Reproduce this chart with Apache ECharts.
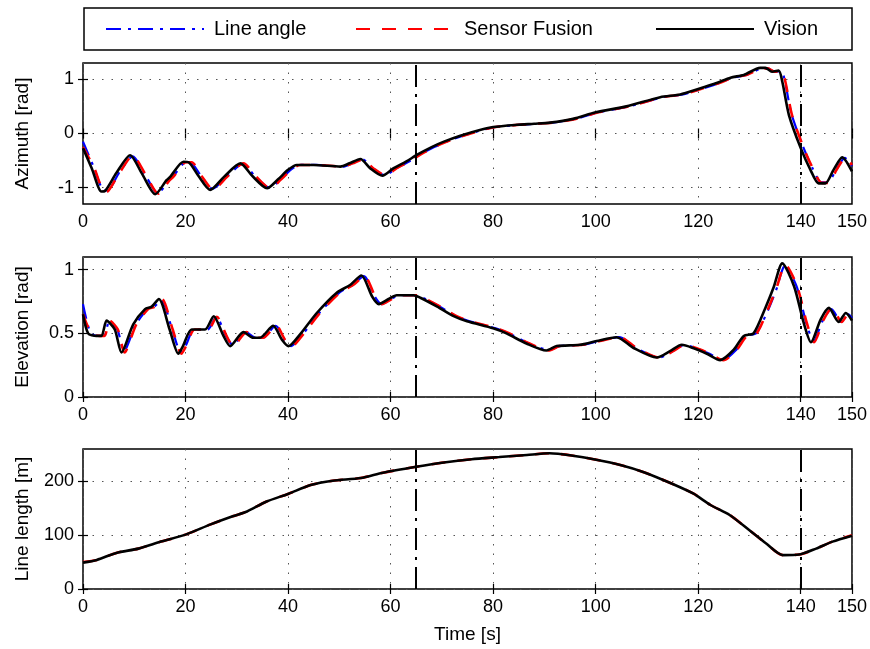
<!DOCTYPE html>
<html>
<head>
<meta charset="utf-8">
<script src="https://cdn.jsdelivr.net/npm/echarts@6/dist/echarts.min.js"></script>
<style>
html,body{margin:0;padding:0;background:#fff;}
#c{width:870px;height:649px;}
</style>
</head>
<body>
<div id="c"></div>
<script>
// ---------- data ----------
const seriesNames = ['Line angle', 'Sensor Fusion', 'Vision'];
const xTicks = [0, 20, 40, 60, 80, 100, 120, 140, 150];
const azTicks = [-1, 0, 1];
const elTicks = [0, 0.5, 1];
const lenTicks = [0, 100, 200];
const eventTimes = [65, 140];

// Azimuth [rad]
const azVisionT = [0,1.7,3.6,4.3,6.5,9.2,11.5,14.1,16.3,17,19.6,20.6,22.5,24.8,27.5,30.7,33,35.9,38,40,41.7,45,50.2,52,54.1,56,58.4,60.6,63,65.2,68,70.4,73.6,77.6,80,84.6,88,91.1,95.6,100,106,112.6,116.5,120,123.6,126.3,128.9,132.1,133.1,134.4,135.7,136.4,137.7,140,141.9,143.5,144.8,146.4,148.1,150];
const azVision = [-0.27,-0.64,-1.07,-1.06,-0.73,-0.40,-0.74,-1.12,-0.86,-0.80,-0.52,-0.53,-0.78,-1.04,-0.80,-0.55,-0.78,-1.01,-0.85,-0.67,-0.58,-0.58,-0.61,-0.55,-0.47,-0.64,-0.78,-0.64,-0.52,-0.39,-0.25,-0.15,-0.04,0.07,0.12,0.16,0.18,0.20,0.27,0.39,0.50,0.67,0.72,0.82,0.93,1.03,1.08,1.21,1.21,1.14,1.16,0.96,0.34,-0.27,-0.67,-0.92,-0.92,-0.67,-0.44,-0.70];
const azFusionT = [0,2.2,4.2,4.9,7.1,9.7,12.1,14.7,16.9,17.6,20.1,21.2,23.1,25.4,28.1,31.3,33.6,36.5,38.6,40.6,42.3,45.5,50.7,52.6,54.6,56.6,59,61.2,63.6,65.8,68.5,71,74.2,78.2,80.5,85.1,88.5,91.6,96.1,100.5,106.5,113.1,117,120.5,124.1,126.8,129.4,132.6,133.6,134.9,136.3,137,138.3,140.6,142.5,144.1,145.4,147,148.7,150];
const azFusion = [-0.25,-0.64,-1.07,-1.06,-0.73,-0.41,-0.74,-1.11,-0.86,-0.80,-0.53,-0.53,-0.78,-1.03,-0.80,-0.55,-0.78,-1.01,-0.85,-0.67,-0.58,-0.58,-0.61,-0.55,-0.48,-0.64,-0.77,-0.64,-0.52,-0.39,-0.25,-0.15,-0.04,0.07,0.12,0.16,0.18,0.20,0.27,0.39,0.50,0.67,0.72,0.82,0.93,1.03,1.08,1.20,1.20,1.14,1.15,0.96,0.34,-0.27,-0.67,-0.91,-0.91,-0.67,-0.45,-0.58];
const azAngleT = [0,2.1,4.1,4.8,7,9.7,12,14.6,16.8,17.5,20.1,21.1,23,25.3,28,31.2,33.5,36.4,38.5,40.5,42.2,45.5,50.7,52.5,54.6,56.5,58.9,61.1,63.5,65.7,68.5,70.9,74.1,78.1,80.5,85.1,88.5,91.6,96.1,100.5,106.5,113.1,117,120.5,124.1,126.8,129.4,132.6,133.6,134.9,136.2,136.9,138.2,140.5,142.4,144,145.3,146.9,148.6,150];
const azAngle = [-0.15,-0.62,-1.05,-1.05,-0.73,-0.42,-0.74,-1.10,-0.86,-0.80,-0.53,-0.54,-0.78,-1.02,-0.80,-0.56,-0.78,-1.00,-0.85,-0.67,-0.58,-0.58,-0.61,-0.55,-0.48,-0.64,-0.77,-0.64,-0.52,-0.39,-0.25,-0.15,-0.04,0.07,0.12,0.16,0.18,0.20,0.27,0.39,0.50,0.67,0.72,0.82,0.93,1.03,1.08,1.20,1.20,1.14,1.15,0.97,0.36,-0.25,-0.66,-0.90,-0.90,-0.67,-0.45,-0.60];

// Elevation [rad]
const elVisionT = [0,1,2.6,3.6,4.6,6.2,7.5,9.8,12.1,13.4,14.8,16.9,18.6,19.5,21.2,23.8,25.5,27.4,28.7,31.3,33.2,34.5,37.1,38.8,40.1,42.3,45.6,49.5,52.1,54.3,56.4,57.7,59.6,61.2,64.5,65.8,69.1,72.3,74.9,80,82.6,86.5,90.4,92.4,96.9,100.2,104.1,107.4,111.9,114.5,116.8,119,121.7,124.3,126.9,128.9,130.8,133.1,134.7,136.4,138.7,140.6,142,143.9,145.5,147.4,148.8,150];
const elVision = [0.65,0.50,0.48,0.48,0.60,0.53,0.35,0.57,0.69,0.71,0.77,0.53,0.34,0.40,0.53,0.53,0.635,0.48,0.40,0.51,0.465,0.465,0.56,0.45,0.40,0.49,0.66,0.82,0.88,0.955,0.79,0.73,0.77,0.80,0.80,0.78,0.71,0.635,0.595,0.54,0.50,0.42,0.365,0.40,0.41,0.44,0.47,0.385,0.31,0.36,0.41,0.385,0.34,0.29,0.37,0.48,0.50,0.70,0.86,1.05,0.87,0.58,0.43,0.61,0.70,0.59,0.66,0.60];
const elFusionT = [0,1.6,3.2,4.2,5.2,6.8,8.1,10.4,12.7,14,15.4,17.5,19.2,20.1,21.8,24.4,26.1,28,29.3,31.9,33.8,35.1,37.7,39.4,40.7,42.9,46.2,50.1,52.7,54.9,57,58.3,60.2,61.8,65.1,66.4,69.7,72.9,75.5,80.6,83.2,87.1,91,93,97.5,100.8,104.7,108,112.5,115.1,117.4,119.6,122.3,124.9,127.5,129.5,131.4,133.7,135.3,137,139.3,141.2,142.6,144.5,146.1,148,149.4,150];
const elFusion = [0.65,0.50,0.48,0.48,0.60,0.53,0.35,0.57,0.69,0.71,0.77,0.53,0.34,0.40,0.53,0.53,0.63,0.48,0.40,0.51,0.465,0.465,0.56,0.45,0.40,0.49,0.66,0.82,0.88,0.95,0.79,0.73,0.77,0.80,0.80,0.78,0.71,0.635,0.595,0.54,0.50,0.42,0.365,0.40,0.41,0.44,0.47,0.385,0.31,0.36,0.41,0.385,0.34,0.29,0.37,0.48,0.50,0.70,0.86,1.04,0.87,0.58,0.43,0.61,0.70,0.59,0.66,0.63];
const elAngleT = [0,1.5,3.1,4.1,5.1,6.7,8,10.3,12.6,13.9,15.3,17.4,19.1,20,21.7,24.3,26,27.9,29.2,31.8,33.7,35,37.6,39.3,40.6,42.8,46.1,50,52.6,54.8,56.9,58.2,60.1,61.7,65,66.3,69.6,72.8,75.4,80.5,83.1,87,90.9,92.9,97.4,100.7,104.6,107.9,112.4,115,117.3,119.5,122.2,124.8,127.4,129.4,131.3,133.6,135.2,136.9,139.2,141.1,142.5,144.4,146,147.9,149.3,150];
const elAngle = [0.73,0.50,0.48,0.48,0.59,0.53,0.36,0.57,0.69,0.71,0.76,0.53,0.35,0.40,0.53,0.53,0.63,0.48,0.41,0.51,0.465,0.465,0.56,0.45,0.40,0.49,0.66,0.82,0.88,0.95,0.79,0.73,0.77,0.80,0.80,0.78,0.71,0.635,0.595,0.54,0.50,0.42,0.37,0.40,0.41,0.44,0.47,0.385,0.31,0.36,0.41,0.385,0.34,0.29,0.37,0.48,0.50,0.68,0.84,1.03,0.87,0.58,0.44,0.61,0.69,0.59,0.65,0.62];

// Line length [m]
const lenT = [0,2.7,6.5,10.8,15.2,20,24.9,29.2,32,35.7,40.1,44.4,48.7,54.2,58.5,65,70.4,75.8,81.2,86.6,91,95.3,99.6,105,109.4,114.8,119.1,122.4,126.2,130,133.2,136.5,139.7,143,146.2,150];
const lenVision = [49,54,67,75,88,101,120,135,144,162,177,193,201,206,216,227,235,241,245,249,252,248,241,230,217,196,177,156,137,109,85,63,64,75,88,99];
const lenFusion = [50,54,67,75,88,101,120,135,144,162,177,193,201,206,216,227,235,241,245,249,252,248,241,230,217,196,177,156,137,109,85,63,64,75,88,100];

// ---------- build ----------
const FONT = "'Liberation Sans', Arial, Helvetica, sans-serif";
const pairs = (t, v) => t.map((x, i) => [x, v[i]]);
const grids = [
  {left: 83, right: 18, top: 63, height: 141},
  {left: 83, right: 18, top: 257, height: 140},
  {left: 83, right: 18, top: 449, height: 140}
];
const yCfg = [
  {min: -1.3, max: 1.3, ticks: azTicks, name: 'Azimuth [rad]'},
  {min: 0, max: 1.1, ticks: elTicks, name: 'Elevation [rad]'},
  {min: 0, max: 260, ticks: lenTicks, name: 'Line length [m]'}
];
const gridLine = {show: true, lineStyle: {color: '#555', width: 1, type: [1.5, 8]}};
const tickStyle = {show: true, inside: true, length: 5, lineStyle: {color: '#000', width: 1.2}};

const xAxis = [], yAxis = [];
grids.forEach((g, i) => {
  g.show = true; g.borderColor = '#000'; g.borderWidth = 1.5; g.backgroundColor = 'transparent';
  xAxis.push({
    type: 'value', gridIndex: i, min: 0, max: 150, interval: 20, position: 'bottom',
    axisLine: {show: false},
    axisTick: Object.assign({customValues: xTicks}, tickStyle),
    axisLabel: {show: true, customValues: xTicks, color: '#000', fontSize: 18, fontFamily: FONT, margin: 9},
    splitLine: gridLine,
    name: i === 2 ? 'Time [s]' : '', nameLocation: 'middle', nameGap: 36,
    nameTextStyle: {color: '#000', fontSize: 19, fontFamily: FONT}
  });
  xAxis.push({
    type: 'value', gridIndex: i, min: 0, max: 150, interval: 20, position: 'top',
    axisLine: {show: false},
    axisTick: Object.assign({customValues: xTicks}, tickStyle),
    axisLabel: {show: false}, splitLine: {show: false}
  });
  const c = yCfg[i];
  yAxis.push({
    type: 'value', gridIndex: i, min: c.min, max: c.max, position: 'left',
    axisLine: {show: false},
    axisTick: Object.assign({customValues: c.ticks}, tickStyle),
    axisLabel: {show: true, customValues: c.ticks, color: '#000', fontSize: 18, fontFamily: FONT, margin: 9},
    splitLine: gridLine,
    name: c.name, nameLocation: 'middle', nameGap: 51,
    nameTextStyle: {color: '#000', fontSize: 19, fontFamily: FONT}
  });
  yAxis.push({
    type: 'value', gridIndex: i, min: c.min, max: c.max, position: 'right',
    axisLine: {show: false},
    axisTick: Object.assign({customValues: c.ticks}, tickStyle),
    axisLabel: {show: false}, splitLine: {show: false}
  });
});

const styles = {
  'Line angle': {color: '#0000ff', width: 2.2, type: [15, 7, 3, 7], z: 2},
  'Sensor Fusion': {color: '#ff0000', width: 2.6, type: [14, 12], z: 3},
  'Vision': {color: '#000000', width: 2.6, type: 'solid', z: 4}
};
function lineSeries(name, gi, data, withMarks) {
  const s = styles[name];
  const o = {
    name, type: 'line', xAxisIndex: gi * 2, yAxisIndex: gi * 2, data,
    showSymbol: false, symbol: 'none', smooth: 0.25, z: s.z, silent: true,
    lineStyle: {color: s.color, width: s.width, type: s.type},
    itemStyle: {color: s.color}
  };
  if (withMarks) {
    o.markLine = {
      silent: true, symbol: ['none', 'none'], label: {show: false}, z: 5,
      lineStyle: {color: '#000', width: 2, type: [22, 7, 3, 7]},
      data: eventTimes.map(t => ({xAxis: t}))
    };
  }
  return o;
}
const series = [
  lineSeries('Line angle', 0, pairs(azAngleT, azAngle)),
  lineSeries('Sensor Fusion', 0, pairs(azFusionT, azFusion)),
  lineSeries('Vision', 0, pairs(azVisionT, azVision), true),
  lineSeries('Line angle', 1, pairs(elAngleT, elAngle)),
  lineSeries('Sensor Fusion', 1, pairs(elFusionT, elFusion)),
  lineSeries('Vision', 1, pairs(elVisionT, elVision), true),
  lineSeries('Sensor Fusion', 2, pairs(lenT, lenFusion)),
  lineSeries('Vision', 2, pairs(lenT, lenVision), true)
];

const legendLeft = [105, 355, 655];
const legend = seriesNames.map((n, i) => ({
  data: [n], left: legendLeft[i], top: 19, padding: 0,
  itemWidth: 98, itemHeight: 20, selectedMode: false,
  itemStyle: {opacity: 0},
  textStyle: {color: '#000', fontSize: 20, fontFamily: FONT, padding: [0, 0, 0, 5]}
}));

const chart = echarts.init(document.getElementById('c'), null, {renderer: 'canvas'});
chart.setOption({
  animation: false,
  backgroundColor: '#fff',
  grid: grids, xAxis, yAxis, series, legend,
  graphic: [{
    type: 'rect', z: 0,
    shape: {x: 84, y: 8, width: 768, height: 42},
    style: {fill: 'none', stroke: '#000', lineWidth: 1.5}
  }]
});
</script>
</body>
</html>
